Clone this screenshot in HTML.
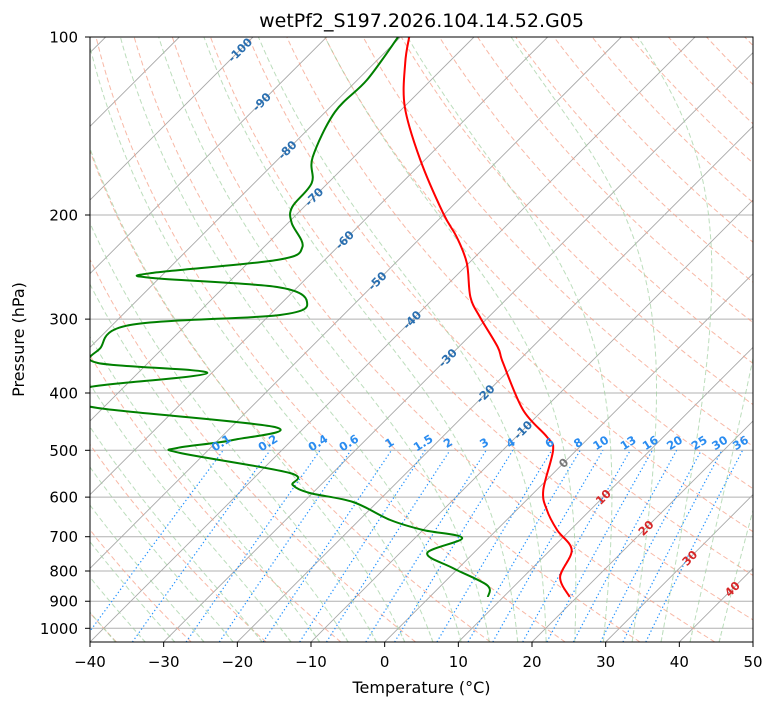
<!DOCTYPE html>
<html><head><meta charset="utf-8"><style>
body{margin:0;background:#fff;}
svg text{font-family:"DejaVu Sans","Liberation Sans",sans-serif;}
</style></head><body>
<svg id="chart" width="775" height="708" xmlns="http://www.w3.org/2000/svg"></svg>
<script>
// ---- data ----
const tempP = [885.0,819.0,737.3,682.0,630.9,583.6,499.4,474.7,427.4,355.9,334.4,297.5,275.2,241.1,217.9,198.5,161.4,131.3,110.7,100];
const tempT = [19,15,12.9,8.2,4.1,0.9,-3.2,-5.8,-12.7,-21.8,-24.7,-31.2,-35.2,-40.3,-45.2,-50.3,-60.6,-69.9,-75.8,-78.8];
const dewP = [885.0,845.6,790.8,745.9,703.5,682,655.9,611.6,590.4,572.3,546.3,505.3,495.5,480.4,456.7,424.1,407.9,390.7,370.0,355.9,335.8,306.9,295.2,280.6,264.7,255.6,250.7,238.3,226.5,206.3,193.9,176.6,159.6,133.9,118.2,100];
const dewT = [7.9,6.2,-0.8,-6.3,-3.6,-10.0,-15.8,-23.3,-30.4,-33.8,-35.8,-53.4,-54.5,-48.0,-44.1,-70.7,-73.8,-74.6,-60.6,-76.8,-78.5,-77.6,-58.6,-56.7,-62.8,-80.9,-81.7,-66.5,-64.8,-69.5,-71.6,-72.2,-75.6,-78.7,-78.7,-80.3];
const xTicks = [-40,-30,-20,-10,0,10,20,30,40,50];
const pTicks = [100,200,300,400,500,600,700,800,900,1000];
const mixW = [0.1,0.2,0.4,0.6,1,1.5,2,3,4,6,8,10,13,16,20,25,30,36];
const isoLabelT = [-100,-90,-80,-70,-60,-50,-40,-30,-20,-10,0,10,20,30,40];
const isoLabelY = [50,102,150,197,240,281,320,358,394,430,463,497,528,558,589];

// ---- geometry ----
const L=90,R=753,T=37,B=642;
const ppc=(R-L)/90; const lnScale=256.8;
function yP(p){return T+Math.log(p/100)*lnScale;}
function xT(t,y){return L+(t+40)*ppc+(B-y);}
const svg=document.getElementById('chart');
const NS='http://www.w3.org/2000/svg';
function mk(tag,attrs,parent){const e=document.createElementNS(NS,tag);for(const k in attrs)e.setAttribute(k,attrs[k]);(parent||svg).appendChild(e);return e;}
const defs=mk('defs',{});
const cp=mk('clipPath',{id:'clip'},defs);mk('rect',{x:L,y:T,width:R-L,height:B-T},cp);
const g=mk('g',{'clip-path':'url(#clip)'});


const pBot=100*Math.exp((B-T)/lnScale);
function pathFrom(ps,ts){let d='';for(let i=0;i<ps.length;i++){const y=yP(ps[i]);const x=xT(ts[i],y);d+=(i?'L':'M')+x.toFixed(1)+' '+y.toFixed(1);}return d;}
function pressures(p0,p1,n){const a=[];for(let i=0;i<=n;i++)a.push(p0*Math.pow(p1/p0,i/n));return a;}

pTicks.forEach(p=>{const y=yP(p);const l=mk('line',{x1:L,x2:R,y1:y,y2:y,stroke:'#b0b0b0','stroke-width':1},g);

});
for(let t=-160;t<=50;t+=10){const l=mk('line',{x1:xT(t,B),y1:B,x2:xT(t,T),y2:T,stroke:'#a8a8a8','stroke-width':0.9},g);

}
const ps=pressures(pBot,100,60);
for(let th=-40;th<=200;th+=10){const K=th+273.15;const ts=ps.map(p=>K*Math.pow(p/1000,0.2857)-273.15);
const e=mk('path',{d:pathFrom(ps,ts),fill:'none',stroke:'#f5a088','stroke-opacity':0.75,'stroke-width':1,'stroke-dasharray':'5,3'},g);

}
function es(t){return 6.112*Math.exp(17.67*t/(t+243.5));}
function dTdp(p,tK){const t=tK-273.15;const rs=0.622*es(t)/(p-es(t));const Rd=287.04,Lv=2.501e6,Cp=1005.7;
return (1/p)*(Rd*tK+Lv*rs)/(Cp+Lv*Lv*rs*0.622/(Rd*tK*tK));}
function moist(t0){function integ(p1){const out=[[1000,t0]];let p=1000,tK=t0+273.15;const n=200;const dp=(p1-1000)/n;
for(let i=0;i<n;i++){const k1=dTdp(p,tK),k2=dTdp(p+dp/2,tK+k1*dp/2),k3=dTdp(p+dp/2,tK+k2*dp/2),k4=dTdp(p+dp,tK+k3*dp);
tK+=dp*(k1+2*k2+2*k3+k4)/6;p+=dp;out.push([p,tK-273.15]);}return out;}
const up=integ(100),dn=integ(pBot);const all=dn.reverse().concat(up.slice(1));return [all.map(a=>a[0]),all.map(a=>a[1])];}
for(let t0=-40;t0<=44;t0+=4){const [mp,mt]=moist(t0);
const e=mk('path',{d:pathFrom(mp,mt),fill:'none',stroke:'#9fcf9f','stroke-opacity':0.7,'stroke-width':1,'stroke-dasharray':'5,3'},g);

}
const mp2=pressures(pBot,500,20);
mixW.forEach(w=>{const ts=mp2.map(p=>{const e=w*p/(622+w);const l=Math.log(e/6.112);return 243.5*l/(17.67-l);});
const e=mk('path',{d:pathFrom(mp2,ts),fill:'none',stroke:'#1e90ff','stroke-width':1.2,'stroke-dasharray':'1.3,2.5'},g);


const y=yP(500),x=xT(ts[ts.length-1],y);
const tx=mk('text',{x:x,y:y-4,'font-size':11.5,'font-weight':'bold',fill:'#2a8cf0','text-anchor':'middle',transform:`rotate(-32 ${x} ${y-4})`});tx.textContent=w;

});
isoLabelT.forEach((t,i)=>{const y=isoLabelY[i];const x=xT(t,y);
const col=t<0?'#2a6fb0':(t===0?'#777':'#d62728');
const tx=mk('text',{x:x,y:y+4,'font-size':11.5,'font-weight':'bold',fill:col,'text-anchor':'middle',transform:`rotate(-45 ${x} ${y})`});tx.textContent=t;

});
function smooth(pp,tt){const pts=pp.map((p,i)=>{const y=yP(p);return [xT(tt[i],y),y];});
let d='M'+pts[0][0].toFixed(1)+' '+pts[0][1].toFixed(1);
for(let i=0;i<pts.length-1;i++){const p0=pts[i-1]||pts[i],p1=pts[i],p2=pts[i+1],p3=pts[i+2]||p2;
const c1=[p1[0]+(p2[0]-p0[0])/6,p1[1]+(p2[1]-p0[1])/6],c2=[p2[0]-(p3[0]-p1[0])/6,p2[1]-(p3[1]-p1[1])/6];
d+=`C${c1[0].toFixed(1)} ${c1[1].toFixed(1)} ${c2[0].toFixed(1)} ${c2[1].toFixed(1)} ${p2[0].toFixed(1)} ${p2[1].toFixed(1)}`;}return d;}
const tl=mk('path',{d:smooth(tempP,tempT),fill:'none',stroke:'#ff0000','stroke-width':2},g);


const dl=mk('path',{d:smooth(dewP,dewT),fill:'none',stroke:'#008000','stroke-width':2},g);


const fr=mk('rect',{x:L,y:T,width:R-L,height:B-T,fill:'none',stroke:'#000','stroke-width':1});


xTicks.forEach(t=>{const x=L+(t+40)*ppc;mk('line',{x1:x,x2:x,y1:B,y2:B+5,stroke:'#000'});
const tx=mk('text',{x:x,y:667,'font-size':15,'text-anchor':'middle',fill:'#000'});tx.textContent=t<0?'\u2212'+(-t):t;

});
pTicks.forEach(p=>{const y=yP(p);mk('line',{x1:L-5,x2:L,y1:y,y2:y,stroke:'#000'});
const tx=mk('text',{x:L-12,y:y+5.5,'font-size':15,'text-anchor':'end',fill:'#000'});tx.textContent=p;

});
const xt=mk('text',{x:(L+R)/2,y:693,'font-size':16,'text-anchor':'middle'});xt.textContent='Temperature (°C)';


const yt=mk('text',{x:24,y:(T+B)/2,'font-size':16,'text-anchor':'middle',transform:`rotate(-90 24 ${(T+B)/2})`});yt.textContent='Pressure (hPa)';


const ti=mk('text',{x:(L+R)/2,y:27,'font-size':19,'text-anchor':'middle'});ti.textContent='wetPf2_S197.2026.104.14.52.G05';


</script>
</body></html>
